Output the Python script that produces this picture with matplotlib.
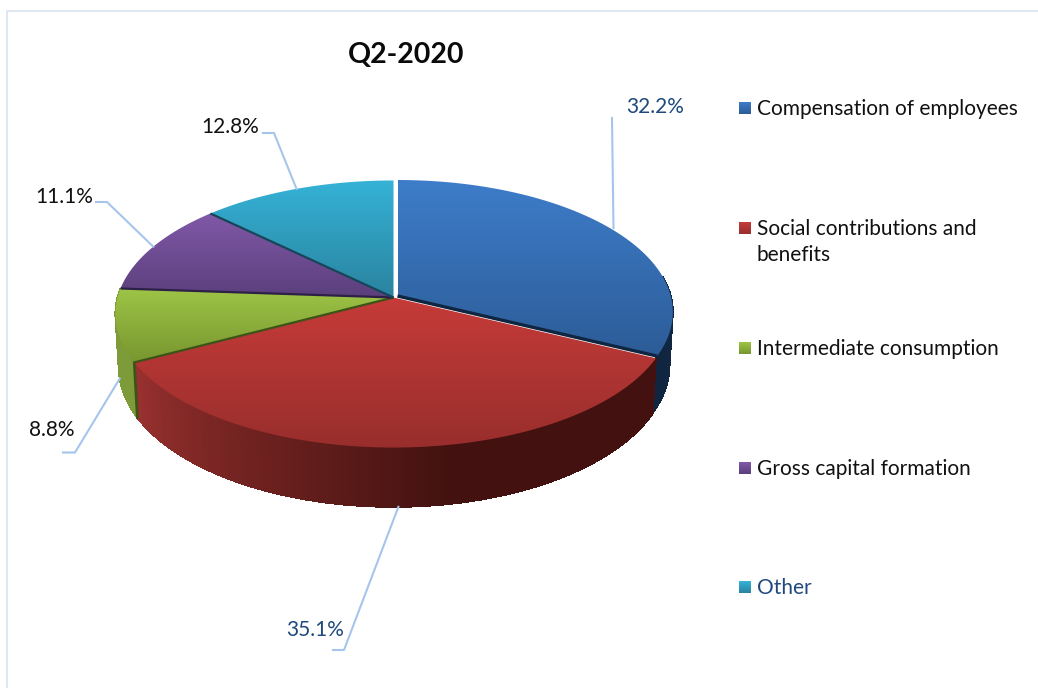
import numpy as np
import matplotlib
matplotlib.use('Agg')
import matplotlib.pyplot as plt
from matplotlib.collections import PolyCollection
from matplotlib.colors import LinearSegmentedColormap, to_rgb
from matplotlib.patches import Polygon

plt.rcParams['font.family'] = ['Lato', 'DejaVu Sans']

TITLE = 'Q2-2020'
CATEGORIES = ['Compensation of employees', 'Social contributions and\nbenefits',
              'Intermediate consumption', 'Gross capital formation', 'Other']
SHARES = [32.2, 35.1, 8.8, 11.1, 12.8]

TOP_LIGHT = ['#3e7dca', '#c63b39', '#9dc546', '#8159a8', '#35b3d7']
TOP_DARK = ['#2c5c97', '#982e2c', '#78962f', '#5b3f7c', '#2a839f']
EDGE_DARK = ['#10253f', '#3d5317', '#2e1f47', '#17465a', '#17465a']
WALL_DARK = ['#10253f', '#431210', '#5f7a26', '#3f2c58', '#1c5a6e']
WALL_LIGHT = ['#142b49', '#99312f', '#7d9b38', '#5b3f7c', '#2a839f']
VALUE_COLORS = ['#1f497d', '#1f497d', '#111111', '#111111', '#111111']
LEGEND_COLORS = ['#111111', '#111111', '#111111', '#111111', '#1f497d']

# pixel layout of the picture
CX, CY = 393.5, 297.5
RX, RY = 276.0, 131.5
PERSP = 0.1236
DEPTH = 52.0
EXPLODE = [(4.0, -1.5), (0, 0), (0, 0), (0, 0), (0, 0)]
RADIUS = [0.99, 1.0, 1.0, 1.0, 1.0]

VALUE_POS = [(655, 107), (315, 630), (52, 430), (64, 197), (230.5, 127)]
ELBOWS = [[(612, 118)], [(333, 650), (344, 650)], [(63, 452.5), (75, 452.5)],
          [(96, 202), (107, 202)], [(263, 133), (274, 133)]]
END_SHIFT = [(-1.5, -3), (0, 0), (0, 0), (0, 0), (0, 0)]
LEGEND_Y = [108, 228, 348, 468, 587]


def project(theta, r=1.0, off=(0, 0), lower=False):
    # theta is clockwise from twelve o'clock
    u = r * np.sin(theta)
    v = r * np.cos(theta)
    s = 1.0 / (1.0 + PERSP * v)
    x = RX * u * s
    y = -RY * v * s
    if lower:
        x = x * 0.988
        y = y + DEPTH * s
    return CX + off[0] + x, CY + off[1] + y


fig = plt.figure(figsize=(10.38, 6.88), dpi=100)
ax = fig.add_axes([0, 0, 1, 1])
ax.set_axis_off()

edges = np.deg2rad(np.cumsum([0] + SHARES) * 3.6)

ax.plot([1038, 7, 7], [11, 11, 688], color='#d9e3f0', lw=1.2, zorder=1)

# side walls, back slices first
for i in [0, 2, 1]:
    # the blue wall runs on behind the red one so no gap shows between them
    end = edges[i + 1] + (0.06 if i == 0 else 0)
    th = np.arange(edges[i], end + 0.006, 0.006)
    th = np.clip(th, edges[i], end)
    th = th[np.cos(th) < 0.15]
    quads = []
    colors = []
    dark = np.array(to_rgb(WALL_DARK[i]))
    light = np.array(to_rgb(WALL_LIGHT[i]))
    for a, b in zip(th[:-1], th[1:]):
        x1, y1 = project(a, RADIUS[i], EXPLODE[i])
        x2, y2 = project(b, RADIUS[i], EXPLODE[i])
        x3, y3 = project(b, RADIUS[i], EXPLODE[i], lower=True)
        x4, y4 = project(a, RADIUS[i], EXPLODE[i], lower=True)
        quads.append([(x1, y1), (x2, y2), (x3, y3), (x4, y4)])
        # lighter as the wall turns toward the left
        if i == 0:
            t = np.clip((edges[1] - a) / (edges[1] - edges[0]) * 2, 0, 1)
        else:
            t = np.clip(((a + b) / 2 - 2.97) / 1.25, 0, 1)
        colors.append(dark + (light - dark) * t)
    ax.add_collection(PolyCollection(quads, facecolors=colors, edgecolors=colors,
                                     linewidths=0.6, antialiaseds=False, zorder=2))

# wall end edge between the green and the red slice
x1, y1 = project(edges[2])
x2, y2 = project(edges[2], lower=True)
ax.plot([x1, x2], [y1, y2], color=EDGE_DARK[1], lw=2, zorder=3)

# top faces with a vertical gradient per slice
for i in range(len(SHARES)):
    th = np.linspace(edges[i], edges[i + 1], 120)
    xs, ys = project(th, RADIUS[i], EXPLODE[i])
    xs = np.r_[CX + EXPLODE[i][0], xs]
    ys = np.r_[CY + EXPLODE[i][1], ys]
    poly = Polygon(np.c_[xs, ys], closed=True, transform=ax.transData,
                   facecolor='none', edgecolor='none')
    ax.add_patch(poly)
    cmap = LinearSegmentedColormap.from_list('s%d' % i, [TOP_LIGHT[i], TOP_DARK[i]])
    grad = np.linspace(0, 1, 256).reshape(-1, 1)
    im = ax.imshow(grad, cmap=cmap, aspect='auto', zorder=4, interpolation='bilinear',
                   extent=[xs.min(), xs.max(), ys.max(), ys.min()])
    im.set_clip_path(poly)

# dark inner edges between slices
for i, j in [(0, 1), (1, 2), (2, 3), (3, 4)]:
    ex, ey = project(edges[j], RADIUS[i], EXPLODE[i])
    ox, oy = EXPLODE[i]
    ax.plot([CX + ox, ex], [CY + oy, ey], color=EDGE_DARK[i], lw=2.4 if i == 0 else 1.6,
            zorder=5, solid_capstyle='butt')

ax.set_xlim(0, 1038)
ax.set_ylim(688, 0)

# leader lines run from each value label to the middle of its slice
for i in range(len(SHARES)):
    mid = (edges[i] + edges[i + 1]) / 2
    low = np.cos(mid) < 0
    ex, ey = project(mid, RADIUS[i], EXPLODE[i], lower=low)
    px = [p[0] for p in ELBOWS[i]] + [ex + END_SHIFT[i][0]]
    py = [p[1] for p in ELBOWS[i]] + [ey + END_SHIFT[i][1]]
    ax.plot(px, py, color='#a6c5ec', lw=1.5, zorder=6)
    ax.text(VALUE_POS[i][0], VALUE_POS[i][1], '%.1f%%' % SHARES[i], color=VALUE_COLORS[i],
            fontsize=15, ha='center', va='center', zorder=7)

ax.text(406, 55, TITLE, fontsize=20.5, fontweight='bold', color='#0a0a0a',
        ha='center', va='center', zorder=7)

# legend
for i, name in enumerate(CATEGORIES):
    cmap = LinearSegmentedColormap.from_list('l%d' % i, [TOP_LIGHT[i], TOP_DARK[i]])
    y = LEGEND_Y[i]
    ax.imshow(np.linspace(0, 1, 32).reshape(-1, 1), cmap=cmap, aspect='auto', zorder=6,
              extent=[739, 751, y + 6, y - 6])
    ax.text(757, y - 9, name, fontsize=15, color=LEGEND_COLORS[i], ha='left', va='top',
            linespacing=1.35, zorder=7)

ax.set_xlim(0, 1038)
ax.set_ylim(688, 0)

fig.savefig('out.png', dpi=100, facecolor='white')
